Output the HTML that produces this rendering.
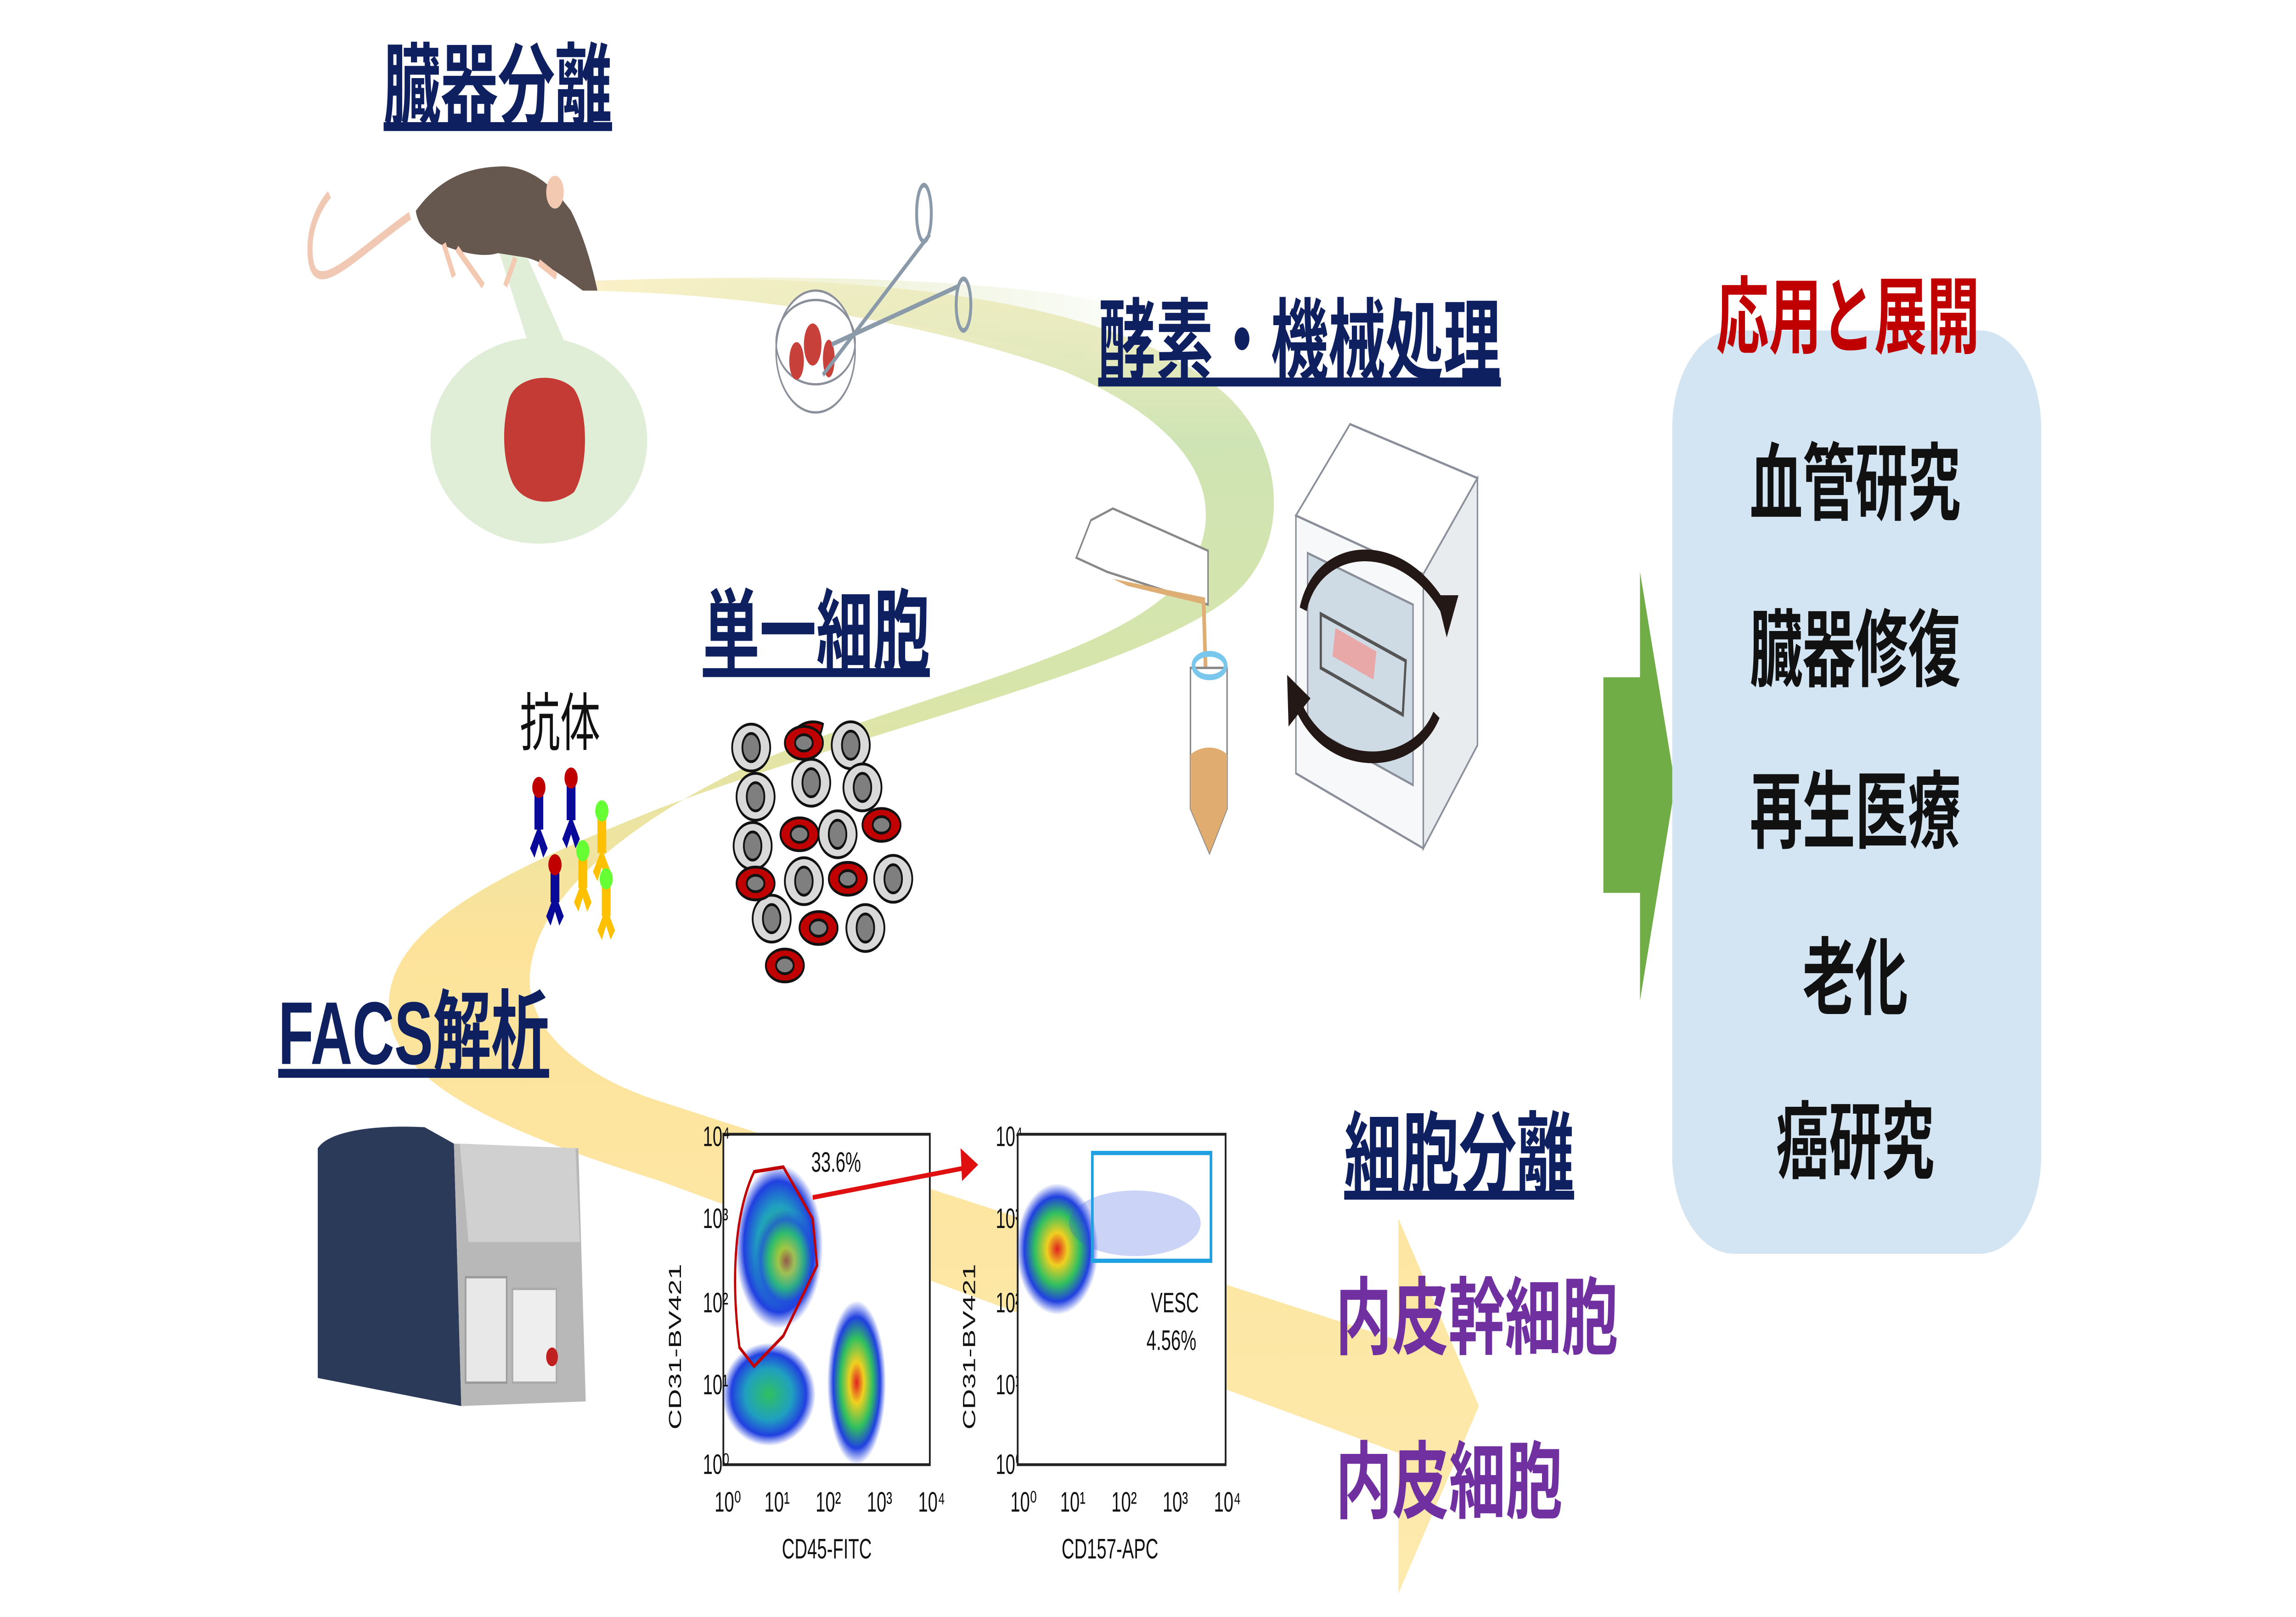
<!DOCTYPE html>
<html><head><meta charset="utf-8"><style>
html,body{margin:0;padding:0;background:#fff;width:100%;height:100%;overflow:hidden;}
svg{display:block;width:100vw;height:100vh;}
text{font-family:"Liberation Sans","Noto Sans CJK JP",sans-serif;}
.t{font-weight:bold;fill:#0f2060;font-size:38px;}
.p{font-weight:bold;fill:#7030a0;font-size:36px;}
.k{font-weight:bold;fill:#111;font-size:36px;}
.s{font-size:12px;fill:#111;}
</style></head><body>
<svg viewBox="0 0 1568 690" preserveAspectRatio="none" xmlns="http://www.w3.org/2000/svg">
<defs>
<linearGradient id="rg" gradientUnits="userSpaceOnUse" x1="0" y1="120" x2="0" y2="680">
<stop offset="0" stop-color="#f8efc6"/><stop offset="0.12" stop-color="#cfe4b4"/><stop offset="0.3" stop-color="#d6e5ab"/><stop offset="0.5" stop-color="#fde39a"/><stop offset="1" stop-color="#fdeaae"/>
</linearGradient>
<linearGradient id="tg" gradientUnits="userSpaceOnUse" x1="400" y1="0" x2="800" y2="0">
<stop offset="0" stop-color="#fcf1c8"/><stop offset="1" stop-color="#cfe4b4" stop-opacity="0"/>
</linearGradient>
<radialGradient id="dot" cx="0.5" cy="0.5" r="0.5">
<stop offset="0" stop-color="#e02020"/><stop offset="0.25" stop-color="#f0d020"/><stop offset="0.55" stop-color="#30c060"/><stop offset="0.8" stop-color="#2040e0"/><stop offset="1" stop-color="#2040e0" stop-opacity="0"/>
</radialGradient>
<radialGradient id="dot2" cx="0.5" cy="0.5" r="0.5">
<stop offset="0" stop-color="#30c060"/><stop offset="0.5" stop-color="#20a0c0"/><stop offset="0.8" stop-color="#2040e0"/><stop offset="1" stop-color="#2040e0" stop-opacity="0"/>
</radialGradient>
</defs>
<!-- ribbon -->
<path d="M400 120 C550 116 760 122 840 170 C880 195 880 235 840 255 C780 285 600 310 450 345 C330 375 250 400 268 440 C285 470 380 490 451 504 L955 620 L955 680 L1010 600 L955 520 L955 572 L451 470 C400 460 358 440 362 415 C366 385 420 355 500 330 C620 295 780 280 815 240 C840 210 810 180 725 158 C620 135 500 125 400 124 Z" fill="url(#rg)"/>
<path d="M400 120 C550 116 700 120 760 130 L740 155 C620 135 500 125 400 124 Z" fill="url(#tg)"/>
<!-- titles -->
<text x="262" y="50" class="t" textLength="156" lengthAdjust="spacingAndGlyphs" text-decoration="underline">臓器分離</text>
<text x="750" y="159" class="t" textLength="275" lengthAdjust="spacingAndGlyphs" text-decoration="underline">酵素・機械処理</text>
<text x="480" y="283" class="t" textLength="155" lengthAdjust="spacingAndGlyphs" text-decoration="underline">単一細胞</text>
<text x="190" y="454" class="t" textLength="185" lengthAdjust="spacingAndGlyphs" text-decoration="underline">FACS解析</text>
<text x="918" y="506" class="t" textLength="157" lengthAdjust="spacingAndGlyphs" text-decoration="underline">細胞分離</text>
<text x="355" y="318" font-size="27" fill="#111" textLength="55" lengthAdjust="spacingAndGlyphs">抗体</text>
<text x="912" y="575" class="p" textLength="193" lengthAdjust="spacingAndGlyphs">内皮幹細胞</text>
<text x="912" y="645" class="p" textLength="155" lengthAdjust="spacingAndGlyphs">内皮細胞</text>
<!-- callout -->
<path d="M339 104 L360 145 L385 145 L356 104 Z" fill="#e0eed8"/>
<ellipse cx="368" cy="188" rx="74" ry="44" fill="#e0eed8"/>
<path d="M347 172 C350 160 380 158 392 166 C402 175 402 200 392 210 C380 216 358 216 350 206 C343 196 343 182 347 172 Z" fill="#c43a34"/>
<!-- mouse -->
<path d="M280 92 C240 110 215 128 212 110 C210 98 218 88 225 83" stroke="#f1c8b4" stroke-width="3.5" fill="none"/>
<path d="M284 90 C300 76 320 71 345 71 C365 72 378 80 390 90 C398 100 404 112 408 124 L398 124 C385 118 372 112 360 110 L340 108 C330 110 315 108 300 104 C290 100 285 95 284 90 Z" fill="#66574f"/>
<ellipse cx="379" cy="82" rx="6" ry="7" fill="#f3c9b2"/>
<path d="M303 104 L310 118 M312 106 L330 122 M352 110 L345 122 M368 112 L380 118" stroke="#f3c9b2" stroke-width="3"/>
<!-- dish -->
<ellipse cx="557" cy="150" rx="27" ry="26" fill="#fff" stroke="#8a8f9a" stroke-width="1"/>
<ellipse cx="557" cy="146" rx="27" ry="18" fill="none" stroke="#8a8f9a" stroke-width="1"/>
<ellipse cx="544" cy="154" rx="5" ry="8" fill="#c8403a"/>
<ellipse cx="555" cy="147" rx="6" ry="9" fill="#c8403a"/>
<ellipse cx="566" cy="153" rx="4" ry="8" fill="#c8403a"/>
<path d="M562 160 L635 100 M568 147 L655 122" stroke="#8a9aa8" stroke-width="2"/>
<ellipse cx="631" cy="91" rx="5" ry="12" fill="none" stroke="#8a9aa8" stroke-width="2"/>
<ellipse cx="658" cy="130" rx="5" ry="11" fill="none" stroke="#8a9aa8" stroke-width="2"/>
<!-- pouring tube -->
<path d="M745 222 L760 217 L825 235 L825 258 L756 244 L735 238 Z" fill="#fff" stroke="#888" stroke-width="1"/>
<path d="M760 247 L823 255 L823 258 L770 250 Z" fill="#dfae74"/>
<path d="M822 257 L824 300" stroke="#dfae74" stroke-width="2.5"/>
<path d="M813 285 L838 285 L838 345 L826 364 L813 345 Z" fill="#fff" stroke="#888" stroke-width="1"/>
<path d="M813 322 C820 318 832 318 838 322 L838 345 L826 364 L813 345 Z" fill="#e0ac70"/>
<ellipse cx="826" cy="284" rx="11" ry="5" fill="none" stroke="#7ac7ee" stroke-width="2.5"/>
<!-- incubator -->
<path d="M885 220 L922 181 L1009 204 L972 245 Z" fill="#fff" stroke="#8a8f9a"/>
<path d="M972 245 L1009 204 L1009 318 L972 362 Z" fill="#e8ecef" stroke="#8a8f9a"/>
<path d="M885 220 L972 245 L972 362 L885 330 Z" fill="#f7f8f9" stroke="#8a8f9a"/>
<path d="M893 236 L965 258 L965 335 L893 310 Z" fill="#cfdbe4" stroke="#8a8f9a"/>
<path d="M902 262 L960 282 L958 305 L902 285 Z" fill="none" stroke="#555" stroke-width="1.5"/>
<path d="M912 268 L940 278 L938 290 L910 280 Z" fill="#e8a8a8"/>
<path d="M890 260 C900 230 960 228 988 262" stroke="#231815" stroke-width="5" fill="none"/>
<path d="M981 254 L996 254 L988 272 Z" fill="#231815"/>
<path d="M981 305 C965 330 905 330 886 300" stroke="#231815" stroke-width="5" fill="none"/>
<path d="M880 310 L879 288 L895 298 Z" fill="#231815"/>
<!-- antibodies -->
<g>
<g fill="#0a0a9a"><rect x="365" y="338" width="6" height="16"/><path d="M362 362 L368 352 L374 362 L371 366 L368 360 L365 366 Z"/>
<rect x="387" y="334" width="6" height="16"/><path d="M384 358 L390 348 L396 358 L393 362 L390 356 L387 362 Z"/>
<rect x="376" y="371" width="6" height="14"/><path d="M373 391 L379 381 L385 391 L382 395 L379 389 L376 395 Z"/></g>
<g fill="#ffc000"><rect x="408" y="348" width="6" height="16"/><path d="M405 372 L411 362 L417 372 L414 376 L411 370 L408 376 Z"/>
<rect x="395" y="365" width="6" height="14"/><path d="M392 385 L398 375 L404 385 L401 389 L398 383 L395 389 Z"/>
<rect x="411" y="377" width="6" height="14"/><path d="M408 397 L414 387 L420 397 L417 401 L414 395 L411 401 Z"/></g>
<circle cx="368" cy="336" r="4.5" fill="#c00000"/><circle cx="390" cy="332" r="4.5" fill="#c00000"/>
<circle cx="411" cy="346" r="4.5" fill="#66ff33"/><circle cx="379" cy="369" r="4.5" fill="#c00000"/>
<circle cx="398" cy="363" r="4.5" fill="#66ff33"/><circle cx="414" cy="375" r="4.5" fill="#66ff33"/>
</g>
<!-- cells -->
<g stroke="#111" stroke-width="1.2">
<g fill="#d9d9d9">
<ellipse cx="513" cy="319" rx="13" ry="10"/><ellipse cx="581" cy="318" rx="13" ry="10"/>
<ellipse cx="516" cy="340" rx="13" ry="10"/><ellipse cx="554" cy="334" rx="13" ry="10"/>
<ellipse cx="589" cy="336" rx="13" ry="10"/><ellipse cx="514" cy="361" rx="13" ry="10"/>
<ellipse cx="572" cy="356" rx="13" ry="10"/><ellipse cx="549" cy="376" rx="13" ry="10"/>
<ellipse cx="610" cy="375" rx="13" ry="10"/><ellipse cx="527" cy="392" rx="13" ry="10"/>
<ellipse cx="591" cy="396" rx="13" ry="10"/></g>
<g fill="#7f7f7f">
<ellipse cx="513" cy="319" rx="6" ry="6"/><ellipse cx="581" cy="318" rx="6" ry="6"/>
<ellipse cx="516" cy="340" rx="6" ry="6"/><ellipse cx="554" cy="334" rx="6" ry="6"/>
<ellipse cx="589" cy="336" rx="6" ry="6"/><ellipse cx="514" cy="361" rx="6" ry="6"/>
<ellipse cx="572" cy="356" rx="6" ry="6"/><ellipse cx="549" cy="376" rx="6" ry="6"/>
<ellipse cx="610" cy="375" rx="6" ry="6"/><ellipse cx="527" cy="392" rx="6" ry="6"/>
<ellipse cx="591" cy="396" rx="6" ry="6"/></g>
<g fill="#c00000">
<path d="M537 321 C540 312 552 308 562 311 C560 318 555 323 537 321 Z" transform="translate(0,-2)"/>
<ellipse cx="549" cy="317" rx="13" ry="7"/><ellipse cx="546" cy="356" rx="13" ry="7"/>
<ellipse cx="602" cy="352" rx="13" ry="7"/><ellipse cx="516" cy="377" rx="13" ry="7"/>
<ellipse cx="579" cy="375" rx="13" ry="7"/><ellipse cx="559" cy="396" rx="13" ry="7"/>
<ellipse cx="536" cy="412" rx="13" ry="7"/></g>
<g fill="#7f7f7f">
<ellipse cx="549" cy="317" rx="6" ry="3.5"/><ellipse cx="546" cy="356" rx="6" ry="3.5"/>
<ellipse cx="602" cy="352" rx="6" ry="3.5"/><ellipse cx="516" cy="377" rx="6" ry="3.5"/>
<ellipse cx="579" cy="375" rx="6" ry="3.5"/><ellipse cx="559" cy="396" rx="6" ry="3.5"/>
<ellipse cx="536" cy="412" rx="6" ry="3.5"/></g>
</g>
<!-- FACS machine -->
<path d="M217 490 C225 482 260 480 290 481 L310 488 L315 600 L217 588 Z" fill="#2c3a5a"/>
<path d="M310 488 L395 490 L400 598 L315 600 Z" fill="#b8b8b8"/>
<path d="M314 488 L393 490 L396 530 L320 530 Z" fill="#d0d0d0"/>
<rect x="318" y="545" width="28" height="45" fill="#e8e8e8" stroke="#999"/>
<rect x="350" y="550" width="30" height="40" fill="#eee" stroke="#aaa"/>
<circle cx="377" cy="579" r="4" fill="#c02020"/>
<!-- plot 1 -->
<rect x="494" y="484" width="141" height="141" fill="#fff" stroke="#222" stroke-width="1.2"/>
<ellipse cx="532" cy="532" rx="30" ry="35" fill="url(#dot2)"/>
<ellipse cx="537" cy="538" rx="22" ry="22" fill="url(#dot)" opacity="0.6"/>
<ellipse cx="525" cy="595" rx="32" ry="22" fill="url(#dot2)"/>
<ellipse cx="585" cy="590" rx="20" ry="35" fill="url(#dot)"/>
<path d="M515 500 L535 498 L555 520 L558 540 L535 570 L515 583 L505 575 C500 550 500 520 515 500 Z" fill="none" stroke="#c00000" stroke-width="1.5"/>
<text x="554" y="500" class="s" font-size="14">33.6%</text>
<text x="534" y="665" class="s" font-size="14">CD45-FITC</text>
<text x="465" y="610" class="s" font-size="14" transform="rotate(-90 465 610)">CD31-BV421</text>
<g class="s" font-size="9">
<text x="480" y="489">10⁴</text><text x="480" y="524">10³</text><text x="480" y="560">10²</text><text x="480" y="595">10¹</text><text x="480" y="629">10⁰</text>
<text x="488" y="645">10⁰</text><text x="522" y="645">10¹</text><text x="557" y="645">10²</text><text x="592" y="645">10³</text><text x="627" y="645">10⁴</text>
<text x="680" y="489">10⁴</text><text x="680" y="524">10³</text><text x="680" y="560">10²</text><text x="680" y="595">10¹</text><text x="680" y="629">10⁰</text>
<text x="690" y="645">10⁰</text><text x="724" y="645">10¹</text><text x="759" y="645">10²</text><text x="794" y="645">10³</text><text x="829" y="645">10⁴</text>
</g>
<path d="M555 511 L662 498" stroke="#e01010" stroke-width="2"/><path d="M668 497 L656 490 L657 504 Z" fill="#e01010"/>
<!-- plot 2 -->
<rect x="695" y="484" width="142" height="141" fill="#fff" stroke="#222" stroke-width="1.2"/>
<ellipse cx="722" cy="533" rx="28" ry="28" fill="url(#dot)"/>
<ellipse cx="775" cy="522" rx="45" ry="14" fill="#3050e0" opacity="0.25"/>
<rect x="746" y="492" width="81" height="46" fill="none" stroke="#20a0e0" stroke-width="1.8"/>
<text x="786" y="560" class="s" font-size="14">VESC</text><text x="783" y="576" class="s" font-size="14">4.56%</text>
<text x="725" y="665" class="s" font-size="14">CD157-APC</text>
<text x="666" y="610" class="s" font-size="14" transform="rotate(-90 666 610)">CD31-BV421</text>
<!-- green arrow -->
<path d="M1095 289 H1120 V244 L1144 335 L1120 427 V381 H1095 Z" fill="#70ad47"/>
<!-- box -->
<rect x="1142" y="141" width="252" height="394" rx="42" fill="#d3e4f2"/>
<text x="1262" y="148" text-anchor="middle" font-size="36" font-weight="bold" fill="#c00000">応用と展開</text>
<text x="1267" y="219" text-anchor="middle" class="k">血管研究</text>
<text x="1267" y="290" text-anchor="middle" class="k">臓器修復</text>
<text x="1267" y="359" text-anchor="middle" class="k">再生医療</text>
<text x="1267" y="430" text-anchor="middle" class="k">老化</text>
<text x="1267" y="500" text-anchor="middle" class="k">癌研究</text>
</svg>
</body></html>
